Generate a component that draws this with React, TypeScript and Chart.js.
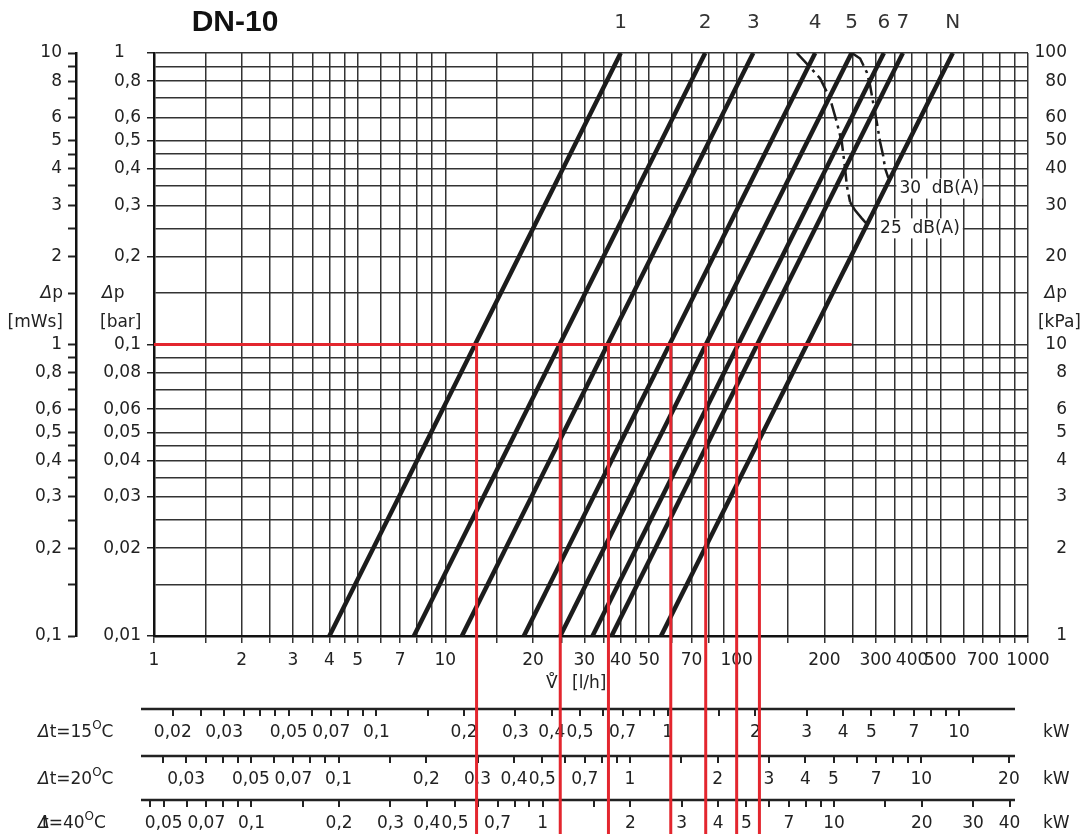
import React, { useEffect, useRef } from 'react';
import { Chart, registerables } from 'chart.js';

Chart.register(...registerables);

// ---------- data ----------
const lineNames = ['1', '2', '3', '4', '5', '6', '7', 'N'];
// flow [l/h] where each valve line meets Δp = 0.1 mWs and Δp = 10 mWs
const flowAtDpMin = [4, 7.8, 11.4, 18.6, 24.8, 32, 37.2, 55];
const flowAtDpMax = [40, 78, 114, 186, 248, 320, 372, 552];

const flowTicks = [1, 1.5, 2, 2.5, 3, 3.5, 4, 4.5, 5, 6, 7, 8, 9, 10, 15, 20, 25, 30, 35, 40, 45, 50, 60, 70, 80, 90, 100, 150, 200, 250, 300, 350, 400, 450, 500, 600, 700, 800, 900, 1000];
const flowLabels = [1, 2, 3, 4, 5, 7, 10, 20, 30, 40, 50, 70, 100, 200, 300, 400, 500, 700, 1000];
const dpTicks = [0.1, 0.15, 0.2, 0.25, 0.3, 0.35, 0.4, 0.45, 0.5, 0.6, 0.7, 0.8, 0.9, 1, 1.5, 2, 2.5, 3, 3.5, 4, 4.5, 5, 6, 7, 8, 9, 10];
const dpLabels = [0.1, 0.2, 0.3, 0.4, 0.5, 0.6, 0.8, 1, 2, 3, 4, 5, 6, 8, 10]; // mWs

// red reading lines at Δp = 1 mWs (0.1 bar)
const redDp = 1;
const redFlowEnd = 248;
const redFlows = [12.8, 24.8, 36.3, 59.4, 78.3, 100, 119.7];

// noise curves
const db25Flow = [160.8, 178.6, 193.4, 209.2, 220.6, 229.5, 235.6, 238.8, 245.1, 255, 268.9, 282.5];
const db25Dp = [10, 8.94, 8.18, 6.98, 5.79, 4.95, 4.02, 3.51, 3.08, 2.885, 2.709, 2.563];
const db30Flow = [248.4, 265.3, 279.6, 287.1, 293.9, 302.7, 310.7, 318.2, 323.2, 330.9, 337];
const db30Dp = [10, 9.575, 8.59, 7.74, 6.78, 5.79, 4.95, 4.45, 4.02, 3.75, 3.68];

// heat output scales: l/h corresponding to 1 kW for each Δt
const kwDeltaT = ['15', '20', '40'];
const kwFlowPerKw = [58, 43, 21.6];
const kw15Ticks = [0.02, 0.025, 0.03, 0.035, 0.04, 0.045, 0.05, 0.06, 0.07, 0.08, 0.09, 0.1, 0.15, 0.2, 0.3, 0.4, 0.5, 0.6, 0.7, 0.8, 0.9, 1, 1.5, 2, 3, 4, 5, 6, 7, 8, 9, 10];
const kw15Labels = [0.02, 0.03, 0.05, 0.07, 0.1, 0.2, 0.3, 0.4, 0.5, 0.7, 1, 2, 3, 4, 5, 7, 10];
const kw20Ticks = [0.025, 0.03, 0.035, 0.04, 0.045, 0.05, 0.06, 0.07, 0.08, 0.09, 0.1, 0.15, 0.2, 0.3, 0.4, 0.5, 0.6, 0.7, 0.8, 0.9, 1, 1.5, 2, 3, 4, 5, 6, 7, 8, 9, 10, 15, 20];
const kw20Labels = [0.03, 0.05, 0.07, 0.1, 0.2, 0.3, 0.4, 0.5, 0.7, 1, 2, 3, 4, 5, 7, 10, 20];
const kw40Ticks = [0.045, 0.05, 0.06, 0.07, 0.08, 0.09, 0.1, 0.15, 0.2, 0.3, 0.4, 0.5, 0.6, 0.7, 0.8, 0.9, 1, 1.5, 2, 3, 4, 5, 6, 7, 8, 9, 10, 15, 20, 30, 40];
const kw40Labels = [0.05, 0.07, 0.1, 0.2, 0.3, 0.4, 0.5, 0.7, 1, 2, 3, 4, 5, 7, 10, 20, 30, 40];

// ---------- helpers ----------
const FONT = '"DejaVu Sans", "Noto Sans", sans-serif';
const TEXT = '#222';
const fmt = (v: number) => String(parseFloat(v.toPrecision(6))).replace('.', ',');
const has = (arr: number[], v: number) => arr.some((a) => Math.abs(a - v) < 1e-9);

type Part = { t: string; font: string; dy?: number; adv?: number };
function drawParts(ctx: CanvasRenderingContext2D, parts: Part[], x: number, y: number, align: 'left' | 'right') {
  let total = 0;
  for (const p of parts) {
    ctx.font = p.font;
    total += p.adv !== undefined ? p.adv : ctx.measureText(p.t).width;
  }
  let cx = align === 'left' ? x : x - total;
  ctx.textAlign = 'left';
  ctx.textBaseline = 'middle';
  for (const p of parts) {
    ctx.font = p.font;
    ctx.fillText(p.t, cx, y + (p.dy || 0));
    cx += p.adv !== undefined ? p.adv : ctx.measureText(p.t).width;
  }
}
const dpParts = (): Part[] => [
  { t: 'Δ', font: `italic 17px ${FONT}` },
  { t: 'p', font: `17px ${FONT}` },
];

const overlay = {
  id: 'overlay',
  afterDraw(chart: any) {
    const ctx: CanvasRenderingContext2D = chart.ctx;
    const xs = chart.scales.x;
    const ys = chart.scales.y;
    ctx.save();
    ctx.fillStyle = '#111';

    // title
    ctx.font = 'bold 30px "Liberation Sans", Arial, sans-serif';
    ctx.textAlign = 'center';
    ctx.textBaseline = 'middle';
    ctx.fillText('DN-10', 235, 23);

    // valve line names
    ctx.fillStyle = '#333';
    ctx.font = `20px ${FONT}`;
    lineNames.forEach((n, i) => ctx.fillText(n, xs.getPixelForValue(flowAtDpMax[i]), 23));

    // dB(A) labels
    ctx.font = `17px ${FONT}`;
    const dbLabel = (txt: string, fx: number, fy: number, dx: number, dy: number) => {
      const x = xs.getPixelForValue(fx) + dx;
      const y = ys.getPixelForValue(fy) + dy;
      const w = ctx.measureText(txt).width;
      ctx.fillStyle = '#fff';
      ctx.fillRect(x - 3, y - 10, w + 6, 20);
      ctx.fillStyle = TEXT;
      ctx.textAlign = 'left';
      ctx.textBaseline = 'middle';
      ctx.fillText(txt, x, y);
    };
    dbLabel('30  dB(A)', db30Flow[db30Flow.length - 1], db30Dp[db30Dp.length - 1], 9, 9);
    dbLabel('25  dB(A)', db25Flow[db25Flow.length - 1], db25Dp[db25Dp.length - 1], 12, 3);

    // Δp axis titles
    ctx.fillStyle = TEXT;
    const yT = ys.getPixelForValue(1.5);
    drawParts(ctx, dpParts(), 63, yT, 'right');
    drawParts(ctx, [{ t: '[mWs]', font: `17px ${FONT}` }], 63, yT + 29, 'right');
    drawParts(ctx, dpParts(), 102, yT, 'left');
    drawParts(ctx, [{ t: '[bar]', font: `17px ${FONT}` }], 100, yT + 29, 'left');
    drawParts(ctx, dpParts(), 1067, yT, 'right');
    drawParts(ctx, [{ t: '[kPa]', font: `17px ${FONT}` }], 1081, yT + 29, 'right');

    // flow axis title
    drawParts(ctx, [{ t: 'V\u030A', font: `17px ${FONT}` }], 546, 684, 'left');
    drawParts(ctx, [{ t: '[l/h]', font: `17px ${FONT}` }], 572, 684, 'left');

    // heat output scales
    const rows = [
      { ticks: kw15Ticks, labels: kw15Labels },
      { ticks: kw20Ticks, labels: kw20Labels },
      { ticks: kw40Ticks, labels: kw40Labels },
    ];
    const rowY = [709, 756, 800];
    rows.forEach((row, r) => {
      const y0 = rowY[r];
      const f = kwFlowPerKw[r];
      ctx.strokeStyle = '#222';
      ctx.lineWidth = 2.5;
      ctx.beginPath();
      ctx.moveTo(chart.chartArea.left - 13, y0);
      ctx.lineTo(1015, y0);
      ctx.stroke();
      ctx.lineWidth = 2;
      row.ticks.forEach((k) => {
        const x = Math.round(xs.getPixelForValue(k * f));
        ctx.beginPath();
        ctx.moveTo(x, y0);
        ctx.lineTo(x, y0 + 7);
        ctx.stroke();
      });
      ctx.fillStyle = TEXT;
      ctx.font = `17px ${FONT}`;
      ctx.textAlign = 'center';
      ctx.textBaseline = 'middle';
      row.labels.forEach((k) => ctx.fillText(fmt(k), xs.getPixelForValue(k * f), y0 + 24));
      ctx.textAlign = 'left';
      ctx.fillText('kW', 1043, y0 + 24);
      const parts: Part[] = [
        { t: 'Δ', font: `italic 17px ${FONT}`, adv: r === 2 ? 4 : undefined },
        { t: 't=' + kwDeltaT[r], font: `17px ${FONT}` },
        { t: 'O', font: `12px ${FONT}`, dy: -7 },
        { t: 'C', font: `17px ${FONT}` },
      ];
      drawParts(ctx, parts, 38, y0 + 24, 'left');
    });

    // red vertical reading lines
    ctx.strokeStyle = '#e3262e';
    ctx.lineWidth = 3;
    const yr = ys.getPixelForValue(redDp);
    redFlows.forEach((q) => {
      const x = xs.getPixelForValue(q);
      ctx.beginPath();
      ctx.moveTo(x, yr);
      ctx.lineTo(x, chart.height);
      ctx.stroke();
    });
    ctx.restore();
  },
};

export default function App() {
  const ref = useRef<HTMLCanvasElement | null>(null);
  useEffect(() => {
    if (!ref.current) return;
    const setTicks = (vals: number[]) => (s: any) => {
      s.ticks = vals.map((v) => ({ value: v }));
    };
    const datasets: any[] = [];
    datasets.push({
      label: 'red',
      data: [{ x: 1, y: redDp }, { x: redFlowEnd, y: redDp }],
      borderColor: '#e3262e',
      borderWidth: 3,
      pointRadius: 0,
    });
    lineNames.forEach((n, i) => {
      datasets.push({
        label: n,
        data: [{ x: flowAtDpMin[i], y: 0.1 }, { x: flowAtDpMax[i], y: 10 }],
        borderColor: '#1c1c1c',
        borderWidth: 4.5,
        pointRadius: 0,
      });
    });
    const dash = [18, 5, 3, 5];
    datasets.push({
      label: '25 dB(A)',
      data: db25Flow.map((x, i) => ({ x, y: db25Dp[i] })),
      borderColor: '#1c1c1c',
      borderWidth: 2.5,
      pointRadius: 0,
      segment: { borderDash: (c: any) => (c.p0DataIndex >= 8 ? [] : dash) },
    });
    datasets.push({
      label: '30 dB(A)',
      data: db30Flow.map((x, i) => ({ x, y: db30Dp[i] })),
      borderColor: '#1c1c1c',
      borderWidth: 2.5,
      pointRadius: 0,
      segment: { borderDash: (c: any) => (c.p0DataIndex >= 8 ? [] : dash) },
    });

    const gridColor = '#333';
    const chart = new Chart(ref.current, {
      type: 'line',
      data: { datasets },
      plugins: [overlay],
      options: {
        responsive: false,
        maintainAspectRatio: false,
        animation: false,
        devicePixelRatio: 1,
        layout: { padding: { left: 0, right: 15, top: 53, bottom: 148 } },
        plugins: { legend: { display: false }, tooltip: { enabled: false }, title: { display: false } },
        elements: { point: { radius: 0 }, line: { tension: 0 } },
        scales: {
          x: {
            type: 'logarithmic',
            position: 'bottom',
            min: 1,
            max: 1000,
            afterBuildTicks: setTicks(flowTicks),
            afterFit: (s: any) => { s.height = 50; },
            grid: { color: gridColor, lineWidth: 1.5, tickLength: 7, tickColor: gridColor },
            border: { color: '#111', width: 2.5 },
            ticks: {
              autoSkip: false, maxRotation: 0, minRotation: 0, padding: 7,
              color: TEXT, font: { family: FONT, size: 17 },
              callback: (v: any) => (has(flowLabels, Number(v)) ? fmt(Number(v)) : ''),
            },
          },
          y: {
            type: 'logarithmic',
            position: 'left',
            weight: 0,
            min: 0.1,
            max: 10,
            afterBuildTicks: setTicks(dpTicks),
            afterFit: (s: any) => { s.width = 78; },
            grid: {
              color: gridColor, lineWidth: 1.5, tickLength: 7,
              tickColor: (c: any) => (c.tick && c.tick.label ? '#222' : 'rgba(0,0,0,0)'),
            },
            border: { color: '#111', width: 2.5 },
            ticks: {
              autoSkip: false, padding: 6, color: TEXT, font: { family: FONT, size: 17 },
              callback: (v: any) => {
                const n = Number(v);
                if (!has(dpLabels, n)) return '';
                return n === 10 ? '1   ' : fmt(n / 10);
              },
            },
          },
          yM: {
            type: 'logarithmic',
            position: 'left',
            weight: 1,
            min: 0.1,
            max: 10,
            afterBuildTicks: setTicks(dpTicks),
            afterFit: (s: any) => { s.width = 76; },
            grid: { drawOnChartArea: false, tickLength: 8, tickColor: '#222', tickWidth: 2 },
            border: { display: true, color: '#111', width: 2.5 },
            ticks: {
              autoSkip: false, padding: 6, color: TEXT, font: { family: FONT, size: 17 },
              callback: (v: any) => (has(dpLabels, Number(v)) ? fmt(Number(v)) : ''),
            },
          },
          yK: {
            type: 'logarithmic',
            position: 'right',
            min: 0.1,
            max: 10,
            afterBuildTicks: setTicks(dpTicks),
            afterFit: (s: any) => { s.width = 39; },
            grid: { drawOnChartArea: false, drawTicks: false },
            border: { display: false },
            ticks: {
              autoSkip: false, padding: 0, crossAlign: 'far', color: TEXT, font: { family: FONT, size: 17 },
              callback: (v: any) => (has(dpLabels, Number(v)) ? fmt(Number(v) * 10) : ''),
            },
          },
        },
      } as any,
    });
    return () => chart.destroy();
  }, []);

  return (
    <div style={{ position: 'absolute', left: 0, top: 0, width: 1082, height: 834, background: '#fff' }}>
      <canvas ref={ref} width={1082} height={834} style={{ display: 'block' }} />
    </div>
  );
}
